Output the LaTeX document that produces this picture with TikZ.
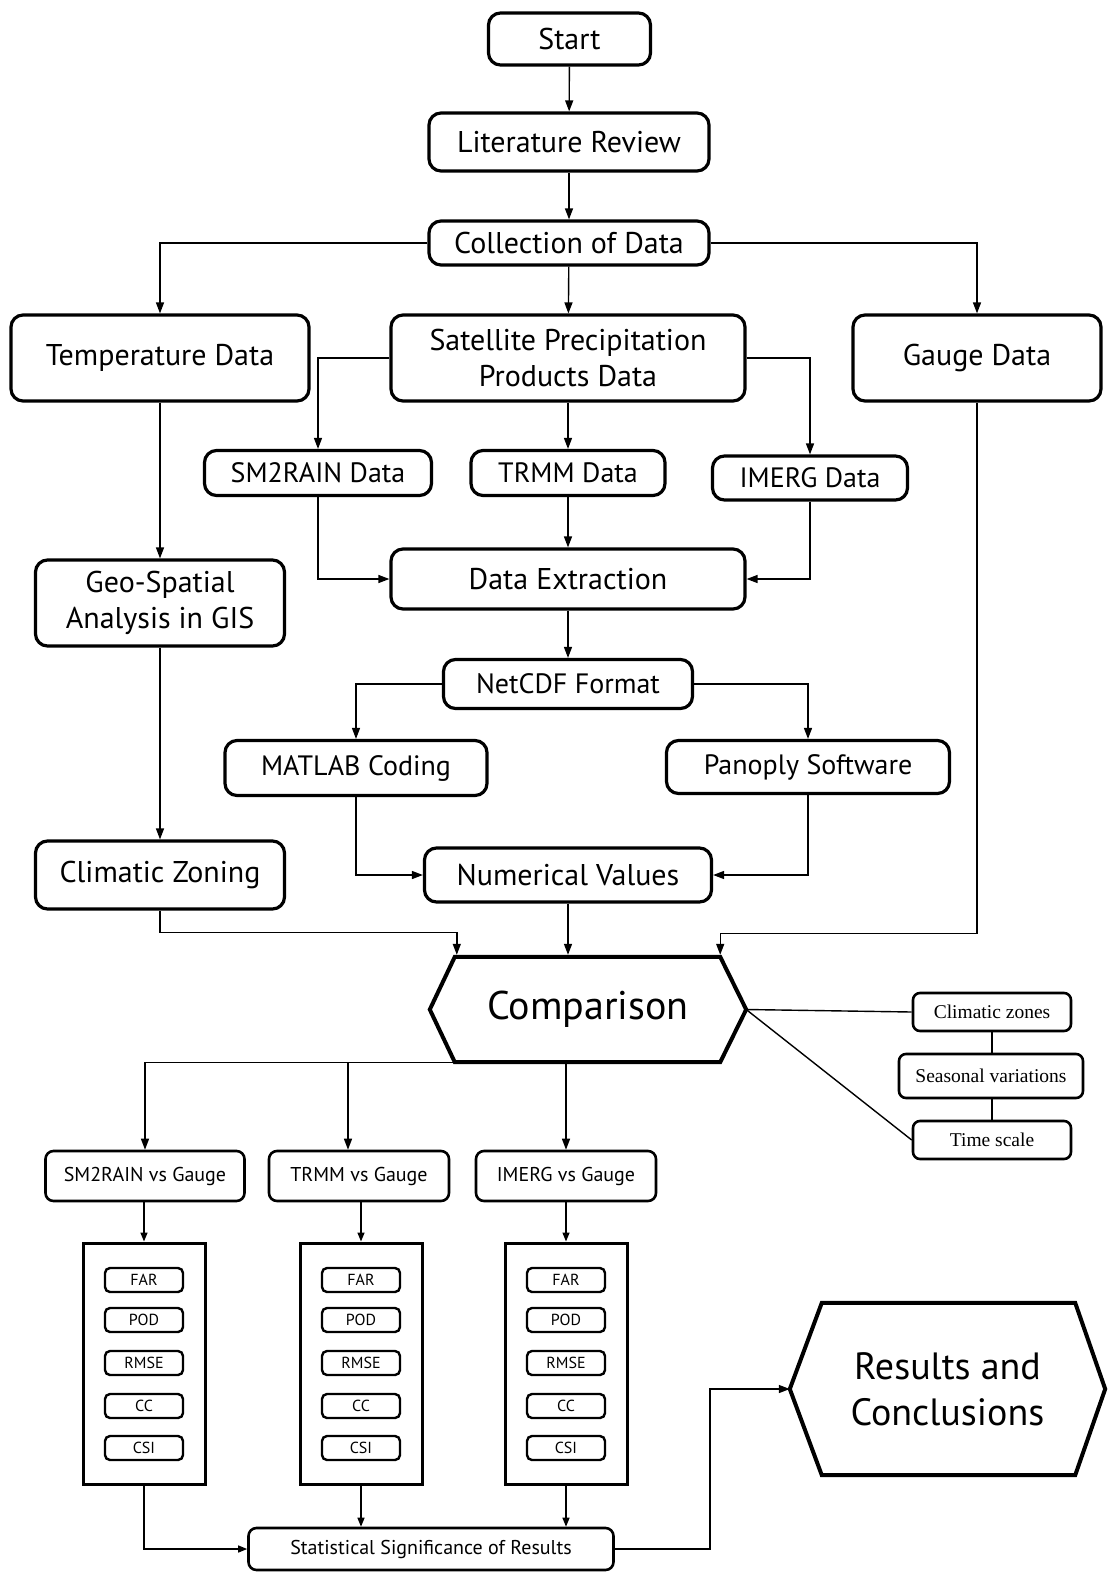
\documentclass[tikz,border=0pt]{standalone}
\usepackage{fontspec}
\setmainfont{PT Sans}
\newfontfamily\tnr{Liberation Serif}
\usetikzlibrary{calc,arrows.meta}
\begin{document}
\begin{tikzpicture}[x=1pt,y=-1pt,
  box/.style={draw, line width=3.2pt, rounded corners=12pt, align=center, inner sep=0pt},
  sbox/.style={draw, line width=2.6pt, rounded corners=8pt, align=center, inner sep=0pt, font=\fontsize{20}{24}\selectfont},
  side/.style={draw, line width=2.6pt, rounded corners=7pt, align=center, inner sep=0pt, font=\tnr\fontsize{19.5}{22}\selectfont},
  mbox/.style={draw, line width=3pt, inner sep=0pt, minimum width=122pt, minimum height=241pt},
  ibox/.style={draw, line width=2.4pt, rounded corners=5pt, inner sep=0pt, minimum width=78pt, minimum height=24pt, font=\fontsize{16}{18}\selectfont},
  hexnode/.style={inner sep=0pt, align=center},
  conn/.style={line width=1.4pt},
  arr/.style={conn,-{Triangle[length=11pt,width=8pt]}},
  sarr/.style={conn,-{Triangle[length=9pt,width=7pt]}},
  f30/.style={font=\fontsize{30}{36}\selectfont},
  f28/.style={font=\fontsize{28}{34}\selectfont}
]
\useasboundingbox (0,0) rectangle (1108,1572);
\fill[white] (0,0) rectangle (1108,1572);

% top chain
\node[box,f30,minimum width=162pt,minimum height=52pt] (start) at (569.5,39) {Start};
\node[box,f30,minimum width=280pt,minimum height=58pt] (lit) at (569,142) {Literature Review};
\node[box,f30,minimum width=280pt,minimum height=44pt] (coll) at (569,243) {Collection of Data};
\node[box,f30,minimum width=298pt,minimum height=86pt] (temp) at (160,358) {Temperature Data};
\node[box,f30,minimum width=354pt,minimum height=86pt] (sat) at (568,358) {Satellite Precipitation\\Products Data};
\node[box,f30,minimum width=248pt,minimum height=86pt] (gauge) at (977,358) {Gauge Data};
\node[box,f28,minimum width=227pt,minimum height=45pt] (sm2) at (318,473) {SM2RAIN Data};
\node[box,f28,minimum width=194pt,minimum height=45pt] (trmm) at (568,473) {TRMM Data};
\node[box,f28,minimum width=195pt,minimum height=44pt] (imerg) at (810,478) {IMERG Data};
\node[box,f30,minimum width=249pt,minimum height=86pt] (geo) at (160,603) {Geo-Spatial\\Analysis in GIS};
\node[box,f30,minimum width=354pt,minimum height=60pt] (dext) at (568,579) {Data Extraction};
\node[box,f28,minimum width=249pt,minimum height=49pt] (netcdf) at (568,684) {NetCDF Format};
\node[box,f28,minimum width=262pt,minimum height=55pt] (matlab) at (356,768) {MATLAB Coding};
\node[box,f28,minimum width=283pt,minimum height=53pt] (panoply) at (808,767) {Panoply Software};
\node[box,f30,minimum width=249pt,minimum height=68pt] (czone) at (160,875) {Climatic Zoning};
\node[box,f30,minimum width=287pt,minimum height=54pt] (num) at (568,875) {Numerical Values};

% comparison hexagon
\node[hexnode,minimum width=316pt,minimum height=105pt,font=\fontsize{40}{46}\selectfont] (cmp) at (588,1009.5) {Comparison};
\draw[line width=4pt,line join=miter] (cmp.west) -- ($(cmp.north west)+(25,0)$) -- ($(cmp.north east)+(-26,0)$) -- (cmp.east) -- ($(cmp.south east)+(-26,0)$) -- ($(cmp.south west)+(25,0)$) -- cycle;
\coordinate (cmpTL) at ($(cmp.north west)+(27,-2)$);
\coordinate (cmpTR) at ($(cmp.north east)+(-26,-2)$);
\coordinate (cmpBL) at ($(cmp.south west)+(25,0)$);
\coordinate (b2) at (348,1062);

% side nodes
\node[side,minimum width=158pt,minimum height=38pt] (cz) at (992,1012) {Climatic zones};
\node[side,minimum width=184pt,minimum height=44pt] (sv) at (991,1076) {Seasonal variations};
\node[side,minimum width=158pt,minimum height=38pt] (ts) at (992,1140) {Time scale};

% vs boxes
\node[sbox,minimum width=199pt,minimum height=50pt] (vs1) at (145,1176) {SM2RAIN vs Gauge};
\node[sbox,minimum width=180pt,minimum height=50pt] (vs2) at (359,1176) {TRMM vs Gauge};
\node[sbox,minimum width=180pt,minimum height=50pt] (vs3) at (566,1176) {IMERG vs Gauge};

% metric boxes
\foreach \i/\x in {1/144,2/361,3/566} {
  \node[mbox] (m\i) at (\x,1363.5) {};
  \node[ibox] (m\i far) at (\x,1280) {FAR};
  \node[ibox] (m\i pod) at (\x,1320) {POD};
  \node[ibox] (m\i rmse) at (\x,1363) {RMSE};
  \node[ibox] (m\i cc) at (\x,1406) {CC};
  \node[ibox] (m\i csi) at (\x,1448) {CSI};
}

\node[sbox,minimum width=365pt,minimum height=42pt,font=\fontsize{20}{24}\selectfont] (stat) at (431,1549) {Statistical Significance of Results};

% results hexagon
\node[hexnode,minimum width=315pt,minimum height=172pt,font=\fontsize{38}{46}\selectfont] (res) at (947.5,1389) {Results and\\Conclusions};
\draw[line width=4pt,line join=miter] (res.west) -- ($(res.north west)+(32,0)$) -- ($(res.north east)+(-30,0)$) -- (res.east) -- ($(res.south east)+(-30,0)$) -- ($(res.south west)+(32,0)$) -- cycle;

% connectors
\draw[arr] (start) -- (lit);
\draw[arr] (lit) -- (coll);
\draw[arr] (coll.west) -| (temp.north);
\draw[arr] (coll) -- (sat);
\draw[arr] (coll.east) -| (gauge.north);
\draw[arr] (sat.west) -| (sm2.north);
\draw[arr] (sat) -- (trmm);
\draw[arr] (sat.east) -| (imerg.north);
\draw[arr] (temp) -- (geo);
\draw[arr] (sm2.south) |- (dext.west);
\draw[arr] (trmm) -- (dext);
\draw[arr] (imerg.south) |- (dext.east);
\draw[arr] (dext) -- (netcdf);
\draw[arr] (netcdf.west) -| (matlab.north);
\draw[arr] (netcdf.east) -| (panoply.north);
\draw[arr] (geo) -- (czone);
\draw[arr] (matlab.south) |- (num.west);
\draw[arr] (panoply.south) |- (num.east);
\draw[arr] (czone.south) -- ++(0,22) -| (cmpTL);
\draw[arr] (num.south) -- (num.south |- cmpTL);
\draw[arr] (gauge.south) -- ++(0,531) -| (cmpTR);

\draw[conn] (cmp.east) -- (cz.west);
\draw[conn] (cmp.east) -- (ts.west);
\draw[conn] (cz.south) -- (sv.north -| cz.south);
\draw[conn] (sv.south -| ts.north) -- (ts.north);

\draw[arr] (cmpBL) -| (vs1.north);
\draw[arr] (b2) -- (b2 |- vs2.north);
\draw[arr] (cmpBL -| vs3.north) -- (vs3.north);

\draw[sarr] (vs1.south -| m1.north) -- (m1.north);
\draw[sarr] (vs2.south -| m2.north) -- (m2.north);
\draw[sarr] (vs3.south) -- (m3.north);

\draw[sarr] (m1.south) |- (stat.west);
\draw[sarr] (m2.south) -- (m2.south |- stat.north);
\draw[sarr] (m3.south) -- (m3.south |- stat.north);
\draw[arr] (stat.east) -- ++(95,0) |- (res.west);
\end{tikzpicture}
\end{document}
